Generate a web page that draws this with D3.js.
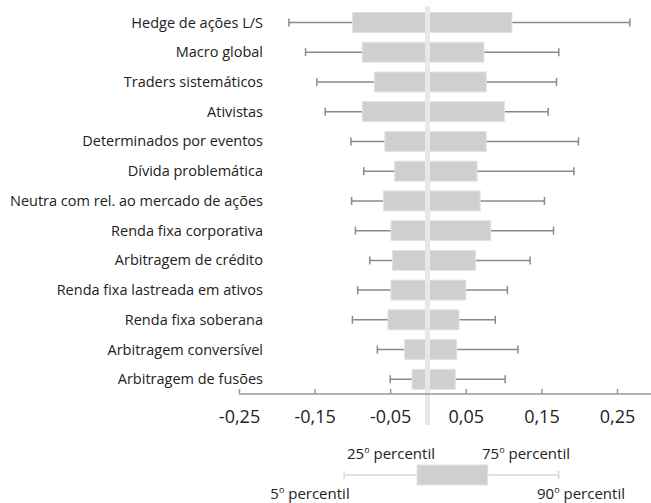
<!DOCTYPE html>
<html>
<head>
<meta charset="utf-8">
<script src="https://cdn.jsdelivr.net/npm/d3@7"></script>
<style>
  html, body { margin: 0; padding: 0; background: #fff; }
  svg { display: block; font-family: "Open Sans", "Noto Sans", sans-serif; }
</style>
</head>
<body>
<svg id="chart" width="651" height="503"></svg>
<script>
const categories = [
  "Hedge de ações L/S",
  "Macro global",
  "Traders sistemáticos",
  "Ativistas",
  "Determinados por eventos",
  "Dívida problemática",
  "Neutra com rel. ao mercado de ações",
  "Renda fixa corporativa",
  "Arbitragem de crédito",
  "Renda fixa lastreada em ativos",
  "Renda fixa soberana",
  "Arbitragem conversível",
  "Arbitragem de fusões"
];
const p5  = [-0.184, -0.162, -0.147, -0.136, -0.102, -0.085, -0.101, -0.096, -0.077, -0.093, -0.100, -0.067, -0.050];
const p25 = [-0.100, -0.087, -0.071, -0.087, -0.057, -0.044, -0.059, -0.049, -0.047, -0.049, -0.053, -0.031, -0.021];
const p75 = [ 0.111,  0.074,  0.077,  0.101,  0.077,  0.065,  0.069,  0.083,  0.063,  0.050,  0.041,  0.038,  0.036];
const p90 = [ 0.267,  0.173,  0.170,  0.159,  0.199,  0.193,  0.154,  0.166,  0.135,  0.105,  0.089,  0.119,  0.102];
const tickValues = [-0.25, -0.15, -0.05, 0.05, 0.15, 0.25];
const tickLabels = ["-0,25", "-0,15", "-0,05", "0,05", "0,15", "0,25"];
const legendValues = [-0.111, -0.0145, 0.079, 0.173];
const legendLabels = ["5", "25", "75", "90"];

const svg = d3.select("#chart");
const x = d3.scaleLinear().domain([-0.25, 0.25]).range([239, 617]);
const y = d3.scaleBand().domain(categories).range([7.6, 394.2]).paddingInner(0.33).paddingOuter(0.165);
const bh = y.bandwidth();
const cy = d => y(d) + bh / 2;

const data = categories.map((c, i) => ({c, a: p5[i], b: p25[i], e: p75[i], f: p90[i]}));

// category labels
svg.append("g").selectAll("text").data(categories).join("text")
  .attr("x", 263).attr("y", d => cy(d)).attr("dy", "0.35em")
  .attr("text-anchor", "end").attr("font-size", 14.5).attr("fill", "#222")
  .text(d => d);

const rows = svg.append("g").selectAll("g").data(data).join("g");
// whiskers
rows.append("line").attr("x1", d => x(d.a)).attr("x2", d => x(d.f))
  .attr("y1", d => cy(d.c)).attr("y2", d => cy(d.c))
  .attr("stroke", "#8a8a8a").attr("stroke-width", 1.5);
rows.append("line").attr("x1", d => x(d.a)).attr("x2", d => x(d.a))
  .attr("y1", d => cy(d.c) - 4).attr("y2", d => cy(d.c) + 4)
  .attr("stroke", "#8a8a8a").attr("stroke-width", 1.5);
rows.append("line").attr("x1", d => x(d.f)).attr("x2", d => x(d.f))
  .attr("y1", d => cy(d.c) - 4).attr("y2", d => cy(d.c) + 4)
  .attr("stroke", "#8a8a8a").attr("stroke-width", 1.5);
// boxes
rows.append("rect").attr("x", d => x(d.b)).attr("width", d => x(d.e) - x(d.b))
  .attr("y", d => y(d.c)).attr("height", bh)
  .attr("fill", "#cfcfcf").attr("stroke", "#e2e2e2").attr("stroke-width", 1);

// zero line
svg.append("rect").attr("x", x(0) - 3).attr("width", 5)
  .attr("y", 6).attr("height", 419).attr("fill", "#e8e8e8");

// axis
const axis = d3.axisBottom(x).tickValues(tickValues).tickSize(0)
  .tickFormat((d, i) => tickLabels[i]);
const ag = svg.append("g").attr("transform", "translate(0,394)");
ag.call(axis);
ag.select(".domain").remove();
ag.append("line").attr("x1", x(-0.25)).attr("x2", 651).attr("y1", 0).attr("y2", 0)
  .attr("stroke", "#9a9a9a").attr("stroke-width", 1.5);
ag.selectAll(".tick").append("line").attr("y1", 0).attr("y2", -5)
  .attr("stroke", "#9a9a9a").attr("stroke-width", 1.5);
ag.selectAll(".tick text").attr("y", 29).attr("dy", 0)
  .attr("font-size", 18).attr("fill", "#222").attr("font-family", "\"Open Sans\", sans-serif");

// legend
const lg = svg.append("g");
const ly = 475;
lg.append("line").attr("x1", x(legendValues[0])).attr("x2", x(legendValues[3]))
  .attr("y1", ly).attr("y2", ly).attr("stroke", "#d6d6d6").attr("stroke-width", 1.5);
[0, 3].forEach(i => lg.append("line").attr("x1", x(legendValues[i])).attr("x2", x(legendValues[i]))
  .attr("y1", ly - 4).attr("y2", ly + 4).attr("stroke", "#d6d6d6").attr("stroke-width", 1.5));
lg.append("rect").attr("x", x(legendValues[1])).attr("width", x(legendValues[2]) - x(legendValues[1]))
  .attr("y", ly - 10).attr("height", 20).attr("fill", "#cfcfcf").attr("stroke", "#e2e2e2");

const legendText = [
  {i: 0, cx: 310, y: 499},
  {i: 1, cx: 391, y: 459},
  {i: 2, cx: 526, y: 459},
  {i: 3, cx: 581, y: 499}
];
legendText.forEach(t => {
  const tx = lg.append("text").attr("x", t.cx).attr("y", t.y).attr("text-anchor", "middle")
    .attr("font-size", 15).attr("fill", "#222");
  tx.append("tspan").text(legendLabels[t.i]);
  tx.append("tspan").attr("font-size", 9).attr("dy", -6).text("o");
  tx.append("tspan").attr("dy", 6).text(" percentil");
});
</script>
</body>
</html>
